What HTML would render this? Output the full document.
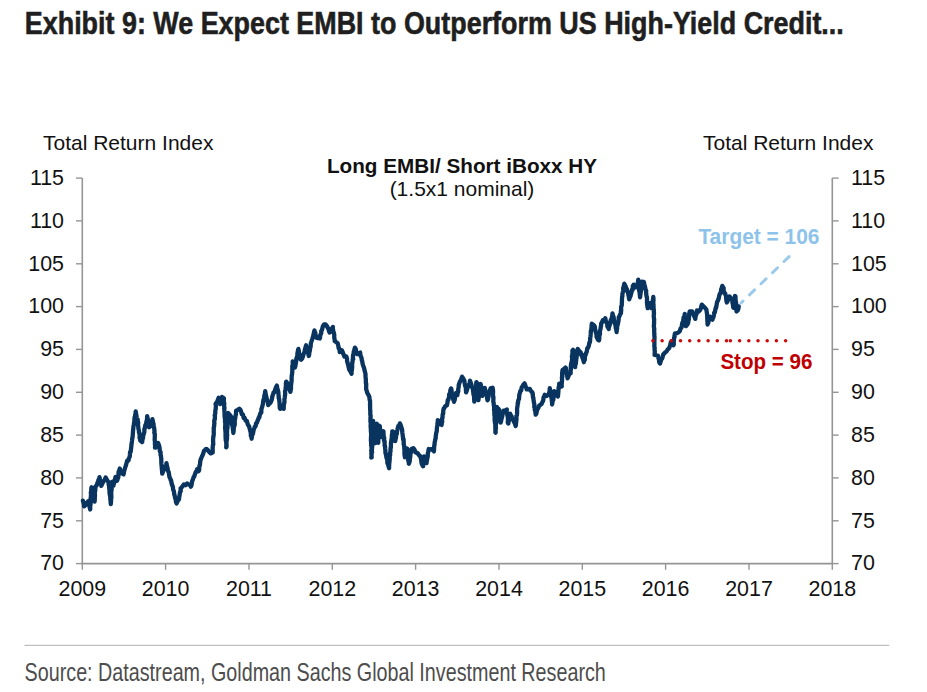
<!DOCTYPE html>
<html><head><meta charset="utf-8"><title>Exhibit 9</title>
<style>
html,body{margin:0;padding:0;background:#fff;}
body{width:927px;height:692px;overflow:hidden;position:relative;}
svg{position:absolute;left:0;top:0;}
.tl{font-family:'Liberation Sans', Arial, sans-serif;font-size:21.4px;fill:#111111;}
.ax{font-family:'Liberation Sans', Arial, sans-serif;font-size:21px;fill:#111111;}
</style></head><body>
<svg width="927" height="692" viewBox="0 0 927 692">
<text x="24.8" y="33.5" textLength="819" lengthAdjust="spacingAndGlyphs" style="font-family:'Liberation Sans', Arial, sans-serif;font-weight:bold;font-size:31.5px;fill:#1f1f1f;stroke:#1f1f1f;stroke-width:0.6px">Exhibit 9: We Expect EMBI to Outperform US High-Yield Credit...</text>
<text x="43" y="150.2" class="ax">Total Return Index</text>
<text x="703" y="150.2" class="ax">Total Return Index</text>
<text x="462" y="172.5" text-anchor="middle" style="font-family:'Liberation Sans', Arial, sans-serif;font-weight:bold;font-size:20.7px;fill:#111111">Long EMBI/ Short iBoxx HY</text>
<text x="462" y="196.1" text-anchor="middle" style="font-family:'Liberation Sans', Arial, sans-serif;font-size:21px;fill:#111111">(1.5x1 nominal)</text>
<line x1="82.3" y1="178.1" x2="82.3" y2="564.1" stroke="#959595" stroke-width="1.6"/>
<line x1="832.3" y1="178.1" x2="832.3" y2="564.1" stroke="#959595" stroke-width="1.6"/>
<line x1="81.5" y1="563.6" x2="833.0999999999999" y2="563.6" stroke="#959595" stroke-width="1.6"/>
<line x1="76.0" y1="563.6" x2="82.3" y2="563.6" stroke="#959595" stroke-width="1.4"/>
<line x1="832.3" y1="563.6" x2="838.5999999999999" y2="563.6" stroke="#959595" stroke-width="1.4"/>
<text x="64" y="570.3" text-anchor="end" class="tl">70</text>
<text x="851" y="570.3" class="tl">70</text>
<line x1="76.0" y1="520.8" x2="82.3" y2="520.8" stroke="#959595" stroke-width="1.4"/>
<line x1="832.3" y1="520.8" x2="838.5999999999999" y2="520.8" stroke="#959595" stroke-width="1.4"/>
<text x="64" y="527.5" text-anchor="end" class="tl">75</text>
<text x="851" y="527.5" class="tl">75</text>
<line x1="76.0" y1="477.9" x2="82.3" y2="477.9" stroke="#959595" stroke-width="1.4"/>
<line x1="832.3" y1="477.9" x2="838.5999999999999" y2="477.9" stroke="#959595" stroke-width="1.4"/>
<text x="64" y="484.6" text-anchor="end" class="tl">80</text>
<text x="851" y="484.6" class="tl">80</text>
<line x1="76.0" y1="435.1" x2="82.3" y2="435.1" stroke="#959595" stroke-width="1.4"/>
<line x1="832.3" y1="435.1" x2="838.5999999999999" y2="435.1" stroke="#959595" stroke-width="1.4"/>
<text x="64" y="441.8" text-anchor="end" class="tl">85</text>
<text x="851" y="441.8" class="tl">85</text>
<line x1="76.0" y1="392.3" x2="82.3" y2="392.3" stroke="#959595" stroke-width="1.4"/>
<line x1="832.3" y1="392.3" x2="838.5999999999999" y2="392.3" stroke="#959595" stroke-width="1.4"/>
<text x="64" y="399.0" text-anchor="end" class="tl">90</text>
<text x="851" y="399.0" class="tl">90</text>
<line x1="76.0" y1="349.4" x2="82.3" y2="349.4" stroke="#959595" stroke-width="1.4"/>
<line x1="832.3" y1="349.4" x2="838.5999999999999" y2="349.4" stroke="#959595" stroke-width="1.4"/>
<text x="64" y="356.1" text-anchor="end" class="tl">95</text>
<text x="851" y="356.1" class="tl">95</text>
<line x1="76.0" y1="306.6" x2="82.3" y2="306.6" stroke="#959595" stroke-width="1.4"/>
<line x1="832.3" y1="306.6" x2="838.5999999999999" y2="306.6" stroke="#959595" stroke-width="1.4"/>
<text x="64" y="313.3" text-anchor="end" class="tl">100</text>
<text x="851" y="313.3" class="tl">100</text>
<line x1="76.0" y1="263.8" x2="82.3" y2="263.8" stroke="#959595" stroke-width="1.4"/>
<line x1="832.3" y1="263.8" x2="838.5999999999999" y2="263.8" stroke="#959595" stroke-width="1.4"/>
<text x="64" y="270.5" text-anchor="end" class="tl">105</text>
<text x="851" y="270.5" class="tl">105</text>
<line x1="76.0" y1="220.9" x2="82.3" y2="220.9" stroke="#959595" stroke-width="1.4"/>
<line x1="832.3" y1="220.9" x2="838.5999999999999" y2="220.9" stroke="#959595" stroke-width="1.4"/>
<text x="64" y="227.6" text-anchor="end" class="tl">110</text>
<text x="851" y="227.6" class="tl">110</text>
<line x1="76.0" y1="178.1" x2="82.3" y2="178.1" stroke="#959595" stroke-width="1.4"/>
<line x1="832.3" y1="178.1" x2="838.5999999999999" y2="178.1" stroke="#959595" stroke-width="1.4"/>
<text x="64" y="184.8" text-anchor="end" class="tl">115</text>
<text x="851" y="184.8" class="tl">115</text>
<line x1="82.3" y1="563.6" x2="82.3" y2="569.8000000000001" stroke="#959595" stroke-width="1.4"/>
<text x="82.3" y="595.6" text-anchor="middle" class="tl">2009</text>
<line x1="165.6" y1="563.6" x2="165.6" y2="569.8000000000001" stroke="#959595" stroke-width="1.4"/>
<text x="165.6" y="595.6" text-anchor="middle" class="tl">2010</text>
<line x1="249.0" y1="563.6" x2="249.0" y2="569.8000000000001" stroke="#959595" stroke-width="1.4"/>
<text x="249.0" y="595.6" text-anchor="middle" class="tl">2011</text>
<line x1="332.3" y1="563.6" x2="332.3" y2="569.8000000000001" stroke="#959595" stroke-width="1.4"/>
<text x="332.3" y="595.6" text-anchor="middle" class="tl">2012</text>
<line x1="415.6" y1="563.6" x2="415.6" y2="569.8000000000001" stroke="#959595" stroke-width="1.4"/>
<text x="415.6" y="595.6" text-anchor="middle" class="tl">2013</text>
<line x1="499.0" y1="563.6" x2="499.0" y2="569.8000000000001" stroke="#959595" stroke-width="1.4"/>
<text x="499.0" y="595.6" text-anchor="middle" class="tl">2014</text>
<line x1="582.3" y1="563.6" x2="582.3" y2="569.8000000000001" stroke="#959595" stroke-width="1.4"/>
<text x="582.3" y="595.6" text-anchor="middle" class="tl">2015</text>
<line x1="665.6" y1="563.6" x2="665.6" y2="569.8000000000001" stroke="#959595" stroke-width="1.4"/>
<text x="665.6" y="595.6" text-anchor="middle" class="tl">2016</text>
<line x1="749.0" y1="563.6" x2="749.0" y2="569.8000000000001" stroke="#959595" stroke-width="1.4"/>
<text x="749.0" y="595.6" text-anchor="middle" class="tl">2017</text>
<line x1="832.3" y1="563.6" x2="832.3" y2="569.8000000000001" stroke="#959595" stroke-width="1.4"/>
<text x="832.3" y="595.6" text-anchor="middle" class="tl">2018</text>
<polyline points="82.9,500.6 83.2,501.8 83.8,503.6 84.1,506.3 85.2,505.3 86.5,503.8 88.2,501.3 88.9,505.1 89.3,505.7 90.2,509.5 90.2,506.5 90.6,504.0 90.6,502.9 90.4,500.8 90.5,500.8 90.6,498.6 90.9,496.4 91.0,494.0 90.8,492.7 91.3,491.5 91.2,490.2 91.4,487.9 91.6,487.2 91.6,488.6 91.9,491.0 92.2,491.3 92.5,492.7 92.5,495.9 92.5,497.0 93.4,499.6 94.6,501.6 94.8,499.3 94.8,498.4 94.8,496.4 95.0,495.9 94.9,493.6 94.8,492.1 95.2,491.2 95.4,487.8 95.2,487.1 96.9,484.9 97.5,482.5 97.9,482.5 98.5,479.7 99.1,479.7 99.5,477.1 100.1,480.1 100.7,482.0 100.9,482.8 101.3,485.9 102.9,482.4 103.8,480.9 104.7,479.7 105.7,477.4 106.8,479.6 108.2,481.7 108.7,483.6 108.7,485.1 109.0,485.4 109.3,488.8 109.5,490.6 109.5,491.3 109.6,493.5 109.7,493.8 110.0,495.7 110.3,497.1 110.3,499.0 110.6,501.2 110.8,504.1 111.1,500.7 111.0,499.5 111.1,497.3 111.4,497.7 111.3,494.8 111.2,492.2 111.4,491.0 111.7,489.0 111.3,489.3 111.6,485.7 111.7,483.7 111.8,484.3 112.0,482.0 112.5,482.9 113.3,485.7 113.9,483.9 114.1,480.9 114.7,480.9 115.1,478.8 115.5,476.9 115.7,478.1 116.4,478.6 116.8,481.0 117.2,480.3 117.9,478.1 118.2,477.8 118.5,474.7 118.5,472.7 118.8,471.0 119.3,471.1 119.8,468.5 120.6,471.4 121.2,473.2 123.6,474.4 124.0,471.9 124.2,470.9 124.7,469.2 125.5,466.5 125.7,466.1 126.7,462.5 127.2,460.7 128.5,460.5 128.7,458.9 129.7,456.7 129.9,454.7 130.1,451.8 130.7,451.7 130.8,450.8 131.0,449.0 131.4,445.8 131.4,444.4 131.7,443.5 131.9,441.4 132.0,440.8 132.3,438.0 132.6,437.3 132.7,435.6 132.9,433.0 133.1,430.0 133.3,428.7 133.3,428.4 133.5,426.0 134.0,424.6 134.0,422.8 134.4,421.8 134.4,419.6 134.6,417.3 135.1,416.2 135.2,415.2 135.6,412.8 135.7,411.3 136.0,413.5 136.3,414.8 136.7,417.6 137.2,419.1 137.7,419.4 137.8,422.8 138.2,422.5 138.0,424.9 138.2,426.0 138.4,428.7 139.0,430.9 138.9,432.1 139.3,432.4 139.7,436.1 139.5,437.7 139.8,438.2 140.3,440.7 141.0,441.0 142.2,442.1 142.3,440.5 142.9,438.1 143.1,437.5 143.1,435.6 143.7,434.5 143.7,434.0 144.3,432.3 144.4,428.9 144.8,428.4 145.3,425.1 145.8,425.2 146.4,421.9 146.4,421.8 147.0,419.5 147.2,416.2 147.8,418.9 147.8,421.8 148.3,423.2 148.3,425.1 148.6,426.8 149.1,427.3 150.8,426.1 151.3,422.5 152.0,421.0 152.4,419.1 152.7,420.8 153.1,422.6 153.6,424.2 153.7,425.5 153.9,426.7 154.2,428.3 154.5,431.4 154.3,432.9 154.8,433.8 154.8,436.3 154.7,439.0 154.7,439.9 155.0,442.8 154.9,444.2 155.1,445.5 155.1,446.5 155.0,447.7 155.6,447.7 156.4,444.7 156.9,444.8 158.0,442.9 158.5,444.0 159.4,446.7 159.6,448.4 159.9,451.4 160.6,452.1 160.5,454.9 160.8,455.1 161.0,456.9 161.3,458.9 161.3,460.7 161.3,461.8 161.4,463.9 161.5,464.7 161.7,467.0 161.9,469.4 162.1,471.4 162.2,473.7 163.3,470.7 164.9,468.6 165.2,468.0 165.3,466.7 166.2,464.5 166.5,463.1 166.6,464.2 167.1,466.7 167.6,468.4 167.9,470.3 168.3,471.6 168.6,471.7 169.0,474.2 169.5,477.1 170.2,478.3 170.7,480.2 171.1,480.3 171.7,483.8 172.0,485.0 172.5,485.6 173.0,487.8 173.1,489.6 173.9,491.2 174.3,494.7 174.6,495.1 175.0,497.5 175.5,499.1 175.8,499.5 175.9,501.7 176.6,503.5 177.6,501.1 178.4,500.0 179.0,499.3 179.3,496.6 179.6,495.3 179.9,492.7 180.4,491.2 180.8,491.2 180.6,488.3 181.4,487.8 183.8,484.4 185.4,485.2 187.1,483.4 188.2,484.4 189.8,484.7 190.9,486.7 191.4,485.6 191.6,484.5 192.2,480.9 192.5,480.5 193.2,478.4 193.6,477.0 194.2,476.6 194.7,474.9 195.8,471.8 196.5,471.7 197.1,469.2 198.6,471.1 199.2,470.0 199.2,468.0 199.5,465.4 199.7,465.7 200.0,464.3 200.3,461.0 200.7,459.2 200.9,459.4 201.5,457.4 202.2,456.1 203.2,453.7 204.0,450.9 204.9,450.3 205.7,449.2 206.7,449.0 208.1,450.3 209.1,452.0 210.7,453.4 212.7,452.6 212.7,451.1 212.7,449.7 212.6,447.5 212.7,447.6 213.0,444.3 213.3,444.5 213.1,440.8 213.1,439.1 213.3,437.4 213.3,436.2 213.6,436.1 213.8,433.3 213.7,431.9 213.8,429.8 213.7,428.0 214.2,426.0 214.1,425.6 214.4,423.0 214.2,421.4 214.4,420.1 214.8,419.4 215.0,415.7 214.7,415.6 215.3,413.3 215.3,410.4 215.3,410.9 215.7,409.0 215.9,405.9 215.6,403.9 216.0,403.4 217.1,401.8 217.8,400.1 218.6,397.8 218.8,400.1 219.3,402.2 219.9,402.5 220.1,404.1 220.8,403.4 221.0,400.2 221.7,399.6 222.0,397.0 223.9,398.3 223.8,401.0 224.2,403.1 224.3,404.3 224.0,405.4 224.5,408.1 224.2,408.1 224.4,411.2 224.5,411.9 224.7,415.1 224.5,414.5 224.7,417.1 224.9,418.2 225.1,421.1 225.0,421.4 225.3,423.3 225.3,424.7 225.1,427.6 225.3,429.7 225.4,429.5 225.4,431.6 225.7,434.5 225.5,434.8 225.6,437.8 225.7,437.2 225.7,439.7 226.3,442.5 226.3,444.3 226.4,444.4 226.2,447.4 226.5,446.9 226.6,446.1 226.5,444.3 226.5,441.8 226.6,441.0 227.0,438.8 227.1,437.4 226.9,437.2 227.2,434.6 226.9,433.1 227.1,432.5 227.1,429.5 227.6,427.0 227.4,427.3 227.7,423.8 227.4,422.2 227.9,421.0 227.9,420.9 227.8,417.7 228.2,416.9 227.9,415.5 228.0,412.8 230.5,415.7 231.2,417.1 231.4,417.3 231.3,420.0 231.9,422.8 231.9,422.8 232.1,425.0 232.6,425.9 232.8,428.9 233.1,430.6 233.2,431.2 233.3,433.0 233.7,430.6 233.6,430.6 233.9,427.2 234.0,426.7 234.3,426.1 234.8,424.5 234.7,420.6 234.8,419.9 235.3,418.1 235.3,416.4 235.7,415.4 235.9,414.1 236.1,410.7 237.9,409.8 239.4,408.7 240.4,409.7 241.0,411.3 241.8,414.2 242.9,414.6 243.7,418.0 244.6,417.9 245.7,420.7 246.9,421.1 247.8,424.5 249.2,426.5 249.1,426.6 249.5,428.0 250.2,430.6 250.5,431.7 250.8,433.5 250.8,435.9 251.5,435.9 251.6,438.8 251.9,436.6 252.3,434.6 252.8,434.0 253.4,431.5 253.5,430.2 254.3,428.2 254.8,426.7 255.7,426.0 256.0,423.4 256.9,422.9 257.7,420.2 258.0,420.1 258.7,417.5 259.3,417.5 259.8,415.0 260.4,413.0 261.3,412.8 261.4,409.1 262.0,407.4 262.0,407.4 262.5,405.5 262.9,403.9 263.3,400.4 263.5,399.6 264.2,398.5 264.3,395.9 264.9,393.7 265.2,391.2 265.7,394.3 265.9,394.9 266.5,397.7 266.5,397.3 267.2,401.0 267.3,400.4 267.9,402.8 268.2,405.0 270.8,402.2 271.3,400.6 271.6,400.4 272.3,397.0 272.5,395.8 273.2,394.0 273.7,392.1 274.7,392.1 275.1,389.8 276.1,387.0 276.9,385.6 277.3,388.6 277.9,390.0 278.4,392.7 278.5,394.6 278.7,395.8 278.7,398.0 279.1,398.8 279.4,401.9 279.5,402.2 279.6,403.7 279.7,406.3 279.8,408.0 280.2,408.8 282.0,408.0 283.7,408.8 283.8,405.4 283.9,404.6 284.3,402.4 284.4,402.8 284.5,400.7 284.4,399.5 284.7,397.8 285.1,394.3 285.2,394.5 285.0,391.5 285.5,389.4 285.7,388.1 285.9,386.1 285.9,386.4 285.9,383.2 286.2,381.7 287.3,383.1 288.6,386.6 289.5,388.6 289.8,390.4 290.4,391.8 290.8,389.7 291.0,388.5 291.0,387.7 290.9,386.3 291.3,383.2 291.5,381.2 291.7,380.3 291.6,379.1 291.7,376.1 292.0,374.1 292.2,373.0 292.2,373.1 292.3,370.6 292.3,367.4 292.3,366.1 292.7,365.1 292.8,364.6 292.7,361.3 293.7,362.8 294.1,365.5 294.9,367.5 295.3,366.3 295.7,363.7 296.0,362.6 296.1,362.0 296.4,358.4 296.6,357.9 297.3,356.5 297.4,353.6 297.5,352.8 298.0,350.3 298.4,348.9 298.9,351.2 298.9,353.3 299.2,354.0 299.7,355.0 299.9,358.0 300.3,359.1 301.1,359.7 301.5,359.4 302.4,358.0 303.3,355.4 303.5,353.9 303.8,353.5 304.7,351.3 304.8,349.8 305.6,347.1 306.1,345.3 306.3,346.3 306.8,347.9 307.3,351.4 308.0,353.4 308.4,353.8 308.8,356.0 309.2,354.5 309.2,353.1 309.9,350.4 310.1,348.2 310.1,347.0 310.6,347.0 310.8,343.8 311.2,342.1 311.3,341.9 312.0,339.9 312.4,339.0 312.8,337.2 313.3,335.7 313.7,333.8 314.2,331.3 314.5,330.5 314.8,332.9 315.3,332.5 315.7,336.4 316.3,336.3 316.6,337.8 319.8,338.5 320.1,337.2 320.2,335.3 320.7,334.3 321.3,332.9 321.2,331.2 322.0,329.9 322.8,326.4 324.1,324.3 325.7,324.4 326.3,325.9 327.0,326.1 327.4,327.1 328.5,329.1 329.0,331.3 329.6,332.5 330.4,332.0 331.2,329.4 332.2,328.2 332.9,326.9 332.7,328.0 333.2,330.5 333.4,331.9 333.7,332.4 334.1,333.7 334.3,335.5 334.2,337.2 334.8,340.6 334.7,341.1 337.7,343.2 337.9,344.1 338.4,346.4 338.7,348.3 339.1,348.1 339.6,350.3 339.7,352.2 341.9,350.4 342.6,352.0 343.0,352.6 343.3,354.2 344.0,355.1 344.4,356.6 346.3,356.4 347.0,358.7 347.1,361.3 347.4,362.0 347.9,364.3 348.4,365.8 348.5,366.7 349.2,369.5 350.1,370.9 350.6,371.8 351.6,373.8 351.5,371.8 352.0,369.6 351.8,368.1 352.2,367.7 352.1,364.4 352.3,363.2 352.6,361.1 352.7,359.5 353.2,359.1 352.9,358.0 353.1,355.0 353.7,354.3 353.7,351.7 354.2,350.4 354.9,347.6 355.8,349.1 356.5,352.9 357.4,354.1 360.2,352.5 360.3,354.6 360.9,356.7 361.5,357.7 361.8,360.2 362.1,360.7 362.7,364.1 363.1,365.4 363.7,367.1 364.2,368.4 364.6,370.6 365.0,371.9 365.5,374.3 365.5,374.9 365.5,377.1 365.8,378.7 365.9,381.7 365.8,382.7 366.2,383.8 366.2,386.9 366.1,387.6 366.3,389.9 366.8,390.9 367.1,392.5 368.1,394.4 368.8,395.6 369.4,397.0 369.6,399.6 370.0,400.6 370.1,402.6 370.0,404.8 370.1,404.4 370.1,406.9 370.1,408.7 370.3,411.1 370.3,411.8 370.3,414.7 370.7,415.9 370.4,418.3 370.5,418.5 370.4,421.5 370.8,422.8 370.7,424.2 370.6,426.8 370.7,427.6 371.0,429.7 370.8,430.0 370.9,431.2 371.1,433.4 371.2,434.8 371.0,436.4 371.0,437.9 370.9,440.8 371.1,441.2 371.1,443.4 371.2,445.4 371.4,446.4 371.6,449.2 371.2,450.7 371.6,452.2 371.3,453.9 371.6,453.6 371.3,457.5 371.7,457.4 371.5,455.5 371.6,455.4 371.7,452.2 372.1,452.1 371.8,450.7 372.0,448.8 372.1,447.5 372.3,445.7 372.0,443.7 372.3,442.2 372.3,440.9 372.4,437.7 372.3,435.8 372.5,434.0 372.5,432.5 372.6,431.7 372.7,431.0 372.5,429.3 372.8,427.0 373.0,426.0 372.9,423.3 373.2,420.9 373.2,423.9 373.1,425.5 373.6,427.9 373.6,429.7 373.9,430.2 374.2,430.8 374.3,433.9 374.3,436.1 374.5,436.9 374.7,439.2 374.7,440.1 375.0,442.1 375.4,443.1 375.5,441.7 375.4,439.7 375.6,439.7 375.7,437.6 375.7,434.7 375.8,433.7 376.1,432.5 375.9,430.7 376.4,428.6 376.1,426.3 376.2,424.3 376.8,423.7 376.8,425.8 377.1,427.1 377.1,428.8 377.2,430.4 377.4,431.2 377.5,433.5 377.7,434.3 377.5,435.9 378.0,439.7 378.0,440.1 378.3,442.8 378.3,439.8 378.3,438.5 378.4,436.7 378.7,436.2 378.6,433.6 378.7,430.8 379.2,430.2 379.4,428.1 379.1,426.3 379.5,425.9 379.9,426.4 379.8,427.1 380.1,429.0 380.1,430.1 380.2,433.4 380.4,435.7 380.6,437.1 380.8,436.6 381.6,435.4 382.2,433.4 382.4,433.1 383.2,431.5 383.4,431.2 383.6,434.4 383.7,436.5 383.8,438.2 384.2,437.6 384.0,440.8 384.6,441.0 384.6,444.2 384.7,446.2 385.0,445.9 385.2,448.7 385.4,450.6 385.4,452.5 385.7,453.8 386.1,454.9 386.4,457.5 387.1,459.3 387.3,459.9 387.4,463.3 388.2,464.7 388.4,465.9 389.1,468.2 389.1,465.3 389.2,465.0 389.3,462.8 389.5,461.6 389.8,458.4 389.5,456.7 389.9,455.8 390.2,454.8 390.0,453.0 390.5,451.4 390.5,448.3 390.8,447.9 390.9,446.5 390.9,442.8 391.1,442.8 391.2,441.1 391.7,438.2 391.8,437.6 391.9,434.8 392.0,434.5 392.4,432.1 392.3,431.3 393.1,431.6 393.5,434.9 394.1,435.7 394.4,437.5 394.8,438.3 395.2,441.2 395.6,439.2 396.0,437.4 396.2,434.6 396.9,433.8 396.8,432.7 397.4,429.9 397.6,428.7 398.3,426.0 398.8,426.5 399.9,423.4 400.5,424.7 401.3,427.0 402.1,429.7 402.3,431.8 402.2,431.2 402.4,433.1 402.6,434.4 403.0,437.9 403.2,439.7 403.6,439.2 403.7,441.6 403.7,444.5 404.0,445.2 404.3,447.7 404.4,448.0 404.3,449.1 404.7,452.7 404.4,452.0 404.5,454.4 404.9,457.3 405.0,456.9 405.3,456.8 405.6,455.8 405.7,452.1 406.4,452.3 406.7,449.1 407.0,448.5 407.0,449.1 407.3,450.2 407.6,451.9 407.7,453.4 408.1,454.7 408.4,456.7 408.2,460.1 408.5,461.7 409.1,463.1 408.9,463.7 409.1,463.2 409.8,460.9 409.8,458.6 410.2,457.3 410.4,454.9 410.4,453.1 410.9,452.7 410.9,451.9 411.2,449.2 413.3,448.1 414.7,450.1 415.4,452.3 417.7,453.3 418.7,454.8 419.8,456.0 420.5,456.2 420.8,458.1 421.1,459.7 421.6,463.3 422.3,464.9 422.3,465.1 423.1,466.3 423.2,465.1 423.6,462.6 423.8,461.6 423.7,459.0 424.2,458.5 424.1,456.4 425.1,457.7 425.4,459.3 425.8,462.6 426.6,463.1 426.5,461.2 427.0,460.6 427.1,458.3 427.5,457.9 427.8,456.0 427.8,453.2 428.2,452.4 428.5,449.9 428.8,449.0 431.0,449.5 432.2,448.9 433.9,451.4 434.1,449.1 434.0,448.7 434.3,445.3 434.6,444.5 434.6,442.5 435.1,440.7 435.2,439.6 435.7,438.3 435.7,436.3 436.0,434.8 436.1,433.5 436.8,430.9 436.8,429.4 437.1,426.5 437.5,425.4 437.4,423.5 437.6,423.6 437.8,420.2 439.3,421.7 440.2,423.8 441.6,424.9 441.9,422.1 442.2,421.9 442.0,418.7 442.5,417.9 442.6,415.2 442.9,413.5 443.2,413.6 443.2,411.1 443.7,408.4 444.0,408.6 445.2,406.2 446.9,405.4 447.0,404.8 447.6,401.8 447.7,400.2 448.1,400.2 448.7,398.5 449.1,396.7 449.2,394.1 450.2,393.3 450.3,390.3 451.1,388.4 451.4,389.4 451.7,392.1 451.8,393.0 452.7,396.2 453.0,397.6 453.3,399.9 453.7,399.6 454.0,401.8 454.4,400.1 454.7,399.9 455.1,396.5 455.4,395.1 456.0,393.0 457.4,395.1 457.6,393.2 458.3,391.3 458.2,389.4 458.7,386.9 458.7,385.1 459.1,384.1 459.7,382.1 460.2,381.2 461.1,379.7 461.6,378.2 462.0,376.7 462.9,378.0 463.8,379.6 464.4,380.8 464.6,383.1 465.0,384.9 465.1,385.9 465.8,387.3 465.9,389.5 466.1,392.4 466.9,390.3 467.6,387.1 468.7,386.5 468.8,384.6 469.6,383.7 470.0,380.7 471.0,383.5 471.2,384.2 471.9,386.5 472.6,388.5 472.9,389.3 473.1,391.5 473.3,392.4 473.5,394.6 473.8,394.8 474.0,396.1 474.2,399.1 474.3,401.6 474.5,398.6 474.9,398.0 475.0,395.2 475.1,393.7 475.5,391.6 475.5,390.5 475.7,388.3 476.1,387.9 476.2,385.2 476.2,383.2 476.4,382.2 476.8,382.7 477.1,384.9 477.2,387.9 477.4,388.0 477.3,391.4 477.3,391.0 477.7,393.8 478.0,396.1 478.0,398.3 478.2,398.9 478.4,400.2 478.5,399.0 478.7,398.1 479.1,395.3 479.0,393.2 479.4,391.9 479.7,391.0 480.1,388.3 480.1,386.9 480.6,384.5 480.6,383.9 480.7,384.3 481.3,387.1 481.3,386.9 481.7,389.9 481.9,392.2 482.1,392.4 482.0,393.7 482.4,395.8 482.8,393.3 483.6,392.6 484.1,391.8 484.8,387.8 485.1,391.2 485.4,392.5 485.7,393.1 486.5,395.4 486.9,396.0 487.2,398.5 487.5,400.3 488.0,399.4 488.5,396.2 488.7,393.8 489.4,392.0 489.5,390.4 490.1,390.2 490.6,388.4 492.6,387.7 493.0,390.1 493.1,391.9 493.0,393.3 493.0,396.5 493.4,396.8 493.4,398.6 493.3,401.5 493.7,403.3 493.7,404.2 493.7,404.4 494.2,408.0 494.0,409.8 494.3,410.0 494.3,413.3 494.4,414.9 494.4,415.2 494.7,416.5 494.6,419.7 494.8,421.1 494.8,421.2 495.0,422.9 495.4,424.8 495.3,426.0 495.4,428.2 495.4,429.1 495.4,432.6 495.6,432.8 495.6,431.3 495.7,429.0 496.0,428.1 495.8,427.4 495.8,424.7 496.3,422.8 496.2,422.8 496.4,419.6 496.2,419.3 496.3,418.3 496.3,416.6 496.5,413.2 496.6,411.4 496.8,410.1 496.9,409.2 496.7,406.8 498.0,408.5 499.3,410.0 499.4,412.8 499.6,415.2 499.9,416.7 500.3,417.7 500.5,419.0 500.7,422.6 501.2,420.6 501.5,418.8 502.1,417.1 502.5,414.5 502.9,413.4 503.2,413.0 503.7,410.7 505.4,410.4 506.8,409.5 506.6,409.7 506.7,412.3 507.2,413.1 507.3,415.4 507.6,416.0 507.9,417.9 507.9,419.1 507.8,422.5 508.3,423.6 508.2,423.6 508.5,422.2 508.9,420.9 509.0,419.0 509.6,417.0 510.0,416.2 510.2,413.7 510.8,416.2 511.5,416.0 512.4,419.3 512.9,419.0 514.1,422.1 514.7,423.0 515.7,426.0 515.9,424.6 516.3,421.0 516.4,420.1 516.5,419.5 516.4,416.1 516.9,415.2 517.0,414.2 517.1,412.9 517.1,410.4 517.0,409.3 517.3,407.2 517.7,404.7 517.7,402.8 518.1,402.9 518.2,400.5 519.0,399.0 519.2,396.4 519.3,394.9 519.9,392.8 520.4,390.9 521.2,390.5 521.6,387.7 522.3,386.5 523.7,384.2 524.5,383.4 525.0,384.3 525.7,386.5 526.3,387.9 526.7,389.3 529.8,388.8 530.9,391.2 531.5,391.5 532.6,392.8 532.7,394.6 533.0,397.2 533.3,397.4 533.5,399.8 533.7,400.7 533.8,401.9 534.5,405.3 534.2,406.8 534.9,408.1 534.7,409.5 535.0,410.4 535.3,411.5 535.7,414.6 536.3,413.7 537.0,410.5 537.5,408.6 538.1,408.5 539.2,405.7 540.0,405.0 541.5,404.2 542.3,402.3 543.2,400.5 543.6,397.4 544.4,396.0 544.7,394.8 546.5,396.0 548.2,394.7 548.7,394.2 549.2,392.5 549.6,391.2 549.8,388.2 549.9,389.3 550.3,390.4 550.6,392.2 550.7,395.7 550.8,395.0 551.2,397.0 551.6,398.1 551.9,401.8 552.1,402.3 552.1,404.5 552.5,402.2 552.8,400.6 553.3,399.8 553.7,396.5 553.7,395.5 554.2,393.5 554.3,391.2 556.0,393.7 557.9,396.4 558.1,395.0 558.3,392.5 558.5,389.6 558.6,389.3 558.6,387.6 559.1,385.8 559.2,383.8 559.2,383.6 560.3,383.9 561.8,386.5 561.6,385.3 561.8,383.5 561.9,381.7 562.1,379.7 561.9,377.5 562.4,376.8 562.1,375.8 562.2,372.3 562.4,371.1 562.5,370.1 564.0,369.0 565.5,367.6 566.0,368.3 566.2,370.0 566.5,373.6 566.8,375.0 567.2,375.3 567.5,378.4 568.1,377.1 569.3,373.9 570.6,373.3 570.7,370.5 570.9,368.6 570.8,367.7 570.8,366.5 571.1,364.1 571.5,362.7 571.8,361.5 572.0,359.7 572.2,358.7 571.9,356.7 572.2,355.0 572.5,353.5 572.4,350.7 572.9,350.4 573.1,349.8 573.3,351.5 573.5,354.8 573.5,356.7 574.0,356.7 574.0,358.7 574.5,360.6 574.4,360.9 574.6,364.3 574.8,365.3 575.1,367.2 575.4,364.4 575.8,363.7 575.9,362.8 576.3,359.3 576.2,358.0 576.5,358.1 576.9,354.5 576.8,354.8 577.3,352.2 577.4,350.1 577.8,349.0 579.4,351.2 580.6,352.1 581.2,355.0 581.9,354.6 582.2,356.9 582.9,359.0 583.4,360.1 583.8,362.2 584.3,359.3 584.8,360.0 584.9,356.4 585.6,355.1 585.8,354.1 586.2,352.6 586.7,352.0 587.3,348.2 587.7,348.4 588.5,346.8 589.0,344.8 589.4,342.4 589.9,342.1 590.2,340.0 590.1,338.5 590.5,336.3 590.7,334.2 590.8,332.7 590.8,330.9 591.2,330.8 591.5,327.6 591.6,325.6 591.8,323.7 594.1,325.5 594.6,326.1 594.9,327.3 595.0,328.4 595.4,330.5 595.9,332.7 596.3,333.8 596.6,336.0 596.5,336.6 597.9,339.7 599.0,340.4 599.3,338.8 599.3,336.2 600.0,333.9 599.9,331.6 600.1,330.4 600.6,328.6 600.7,326.8 601.0,326.7 601.2,323.3 601.5,323.4 602.8,320.2 604.2,321.1 605.3,318.2 605.8,320.9 606.7,322.9 607.2,323.6 607.4,326.6 608.1,327.5 608.7,329.0 608.8,327.5 609.3,326.3 609.9,324.4 610.4,322.1 610.8,319.8 611.5,319.5 612.0,316.6 612.2,316.5 612.5,313.3 612.8,315.1 613.5,316.7 613.9,319.1 614.2,321.2 614.6,323.0 615.0,323.9 615.5,325.4 615.8,328.3 616.2,328.9 616.6,332.1 616.8,328.9 617.1,328.9 617.2,325.1 617.7,325.0 618.1,322.7 618.5,320.8 618.7,318.9 618.7,317.4 619.3,316.6 620.2,314.2 621.0,313.0 620.8,310.9 621.2,311.0 621.1,307.2 621.5,306.1 621.8,305.0 621.8,303.0 622.0,301.7 621.9,301.1 622.0,299.0 622.1,297.1 622.4,296.0 622.4,293.7 622.7,292.9 623.1,290.5 623.3,287.7 623.8,286.2 624.3,283.7 625.6,286.2 626.5,288.5 626.9,289.1 627.2,291.5 628.0,291.7 628.3,294.7 628.5,295.2 629.0,298.2 629.2,299.3 630.0,297.0 630.5,296.2 630.9,294.4 631.5,292.4 632.2,289.3 632.7,289.7 632.8,285.8 633.2,286.4 633.6,284.7 634.7,286.4 635.7,287.2 636.5,285.2 636.9,285.4 637.7,283.5 638.3,279.7 638.2,283.1 638.6,282.9 638.8,284.9 638.9,286.2 639.0,289.9 639.3,291.2 639.5,291.9 639.7,293.3 639.9,295.6 640.1,297.3 640.5,294.1 640.5,293.3 641.0,291.3 640.8,291.1 641.3,288.9 641.1,285.9 641.3,283.9 641.3,283.3 641.7,281.7 643.8,281.8 644.5,285.2 645.0,286.7 645.6,289.6 646.2,290.7 646.1,291.5 646.3,294.8 646.4,295.1 646.6,296.3 647.0,297.7 647.0,301.6 646.9,302.6 647.1,303.4 647.2,304.8 647.7,308.2 648.4,305.0 649.1,304.2 649.8,303.3 650.7,306.5 651.6,308.1 652.2,305.7 652.3,305.1 652.4,302.4 652.9,300.0 653.2,298.2 653.3,297.0 653.4,298.0 653.5,300.2 653.3,302.1 653.4,304.5 653.5,305.7 653.6,306.8 653.5,307.7 653.9,310.4 653.8,312.1 654.0,313.1 653.7,316.2 653.9,317.4 654.1,319.7 654.2,319.4 654.0,322.9 654.2,322.9 653.9,324.9 653.9,326.8 654.3,328.8 654.2,329.4 654.2,333.3 654.4,333.6 654.3,336.1 654.5,336.2 654.5,338.4 654.4,339.7 654.4,341.6 654.4,342.5 654.4,345.5 654.3,346.2 654.7,348.0 654.5,349.6 654.8,350.9 654.7,354.4 654.6,355.0 657.7,355.5 658.0,355.8 658.5,358.4 659.0,359.9 659.3,362.5 660.0,363.5 660.4,362.2 661.4,359.3 662.1,358.6 662.6,357.1 663.3,354.2 664.2,353.5 665.2,352.3 666.5,351.5 667.5,349.7 669.2,347.9 669.9,346.0 670.2,345.3 670.7,342.6 671.3,341.6 672.1,342.8 672.7,342.6 673.6,345.2 673.8,344.1 673.7,341.1 673.9,340.9 674.1,337.5 674.6,337.0 674.5,335.6 675.0,333.5 676.5,333.3 678.5,332.3 679.7,331.4 680.6,328.4 681.3,327.8 681.6,327.3 682.1,323.9 682.5,322.2 683.2,321.3 683.4,319.3 683.6,317.4 684.4,316.9 684.8,313.9 684.7,315.2 685.0,317.7 685.2,319.7 685.5,321.1 685.8,322.4 686.1,325.0 685.9,326.2 687.1,324.9 688.1,323.2 688.2,322.7 688.4,320.9 688.9,319.1 688.9,318.3 689.1,316.6 689.2,313.9 689.7,311.4 692.3,311.5 692.9,313.2 693.9,315.6 694.6,317.0 695.3,318.9 695.6,316.1 696.4,314.1 696.9,312.5 697.0,310.5 698.8,311.5 700.2,309.8 700.8,308.4 701.8,304.6 704.1,306.9 706.1,309.2 706.3,309.4 706.6,311.2 706.8,312.4 707.1,314.5 707.2,315.7 707.3,319.3 707.3,318.6 707.4,321.7 707.5,323.1 707.6,324.5 708.3,322.8 708.7,320.4 709.2,318.8 709.6,319.3 710.0,316.6 711.0,317.7 712.5,319.6 713.1,317.1 713.4,317.4 713.9,315.1 714.2,312.6 714.7,312.8 715.4,309.5 715.9,307.3 716.1,307.9 716.4,306.1 717.0,302.3 717.4,301.5 718.0,300.4 718.6,298.8 719.3,295.3 719.9,293.6 720.5,293.5 721.0,290.9 721.2,289.3 721.8,287.8 722.3,285.9 722.9,286.9 723.6,287.9 723.8,291.3 724.4,292.6 725.2,293.3 725.2,294.1 726.0,296.0 726.2,298.8 726.4,300.5 726.8,302.5 727.9,300.4 728.6,298.8 729.5,296.4 732.0,299.2 732.4,300.9 732.4,302.7 732.8,304.0 733.1,305.5 733.2,307.3 733.4,307.8 733.6,306.3 734.0,304.3 734.4,302.0 734.5,300.6 734.7,300.1 735.0,296.5 735.0,296.0 735.5,296.4 735.5,299.6 735.7,300.4 735.9,302.4 736.1,303.0 736.2,305.6 736.1,306.5 736.2,309.7 736.5,310.0 736.5,311.6 737.0,310.3 737.6,310.6 738.4,308.6 738.7,306.4" fill="none" stroke="#08345f" stroke-width="4.3" stroke-linejoin="round" stroke-linecap="round"/>
<line x1="741" y1="303" x2="790.7" y2="255.1" stroke="#9ccaec" stroke-width="3" stroke-dasharray="7 9" stroke-dashoffset="4.2" stroke-linecap="round"/>
<circle cx="652.9" cy="340.8" r="1.75" fill="#cc0a0a"/>
<circle cx="662.1" cy="340.8" r="1.75" fill="#cc0a0a"/>
<circle cx="671.3" cy="340.8" r="1.75" fill="#cc0a0a"/>
<circle cx="680.5" cy="340.8" r="1.75" fill="#cc0a0a"/>
<circle cx="689.7" cy="340.8" r="1.75" fill="#cc0a0a"/>
<circle cx="698.9" cy="340.8" r="1.75" fill="#cc0a0a"/>
<circle cx="708.1" cy="340.8" r="1.75" fill="#cc0a0a"/>
<circle cx="717.3" cy="340.8" r="1.75" fill="#cc0a0a"/>
<circle cx="726.5" cy="340.8" r="1.75" fill="#cc0a0a"/>
<circle cx="730.4" cy="340.8" r="1.75" fill="#cc0a0a"/>
<circle cx="739.6" cy="340.8" r="1.75" fill="#cc0a0a"/>
<circle cx="748.8" cy="340.8" r="1.75" fill="#cc0a0a"/>
<circle cx="758.0" cy="340.8" r="1.75" fill="#cc0a0a"/>
<circle cx="767.2" cy="340.8" r="1.75" fill="#cc0a0a"/>
<circle cx="776.4" cy="340.8" r="1.75" fill="#cc0a0a"/>
<circle cx="785.6" cy="340.8" r="1.75" fill="#cc0a0a"/>
<text transform="translate(698.4,244.3) scale(0.973,1)" style="font-family:'Liberation Sans', Arial, sans-serif;font-weight:bold;font-size:21.5px;fill:#8dc3ea">Target = 106</text>
<text transform="translate(720.4,368.9) scale(0.962,1)" style="font-family:'Liberation Sans', Arial, sans-serif;font-weight:bold;font-size:21.4px;fill:#c00000">Stop = 96</text>
<line x1="24.5" y1="645.4" x2="889.2" y2="645.4" stroke="#c0c0c0" stroke-width="1.3"/>
<text x="24.6" y="680.5" textLength="581.2" lengthAdjust="spacingAndGlyphs" style="font-family:'Liberation Sans', Arial, sans-serif;font-size:25.5px;fill:#4d4d4d">Source: Datastream, Goldman Sachs Global Investment Research</text>
</svg>
</body></html>
